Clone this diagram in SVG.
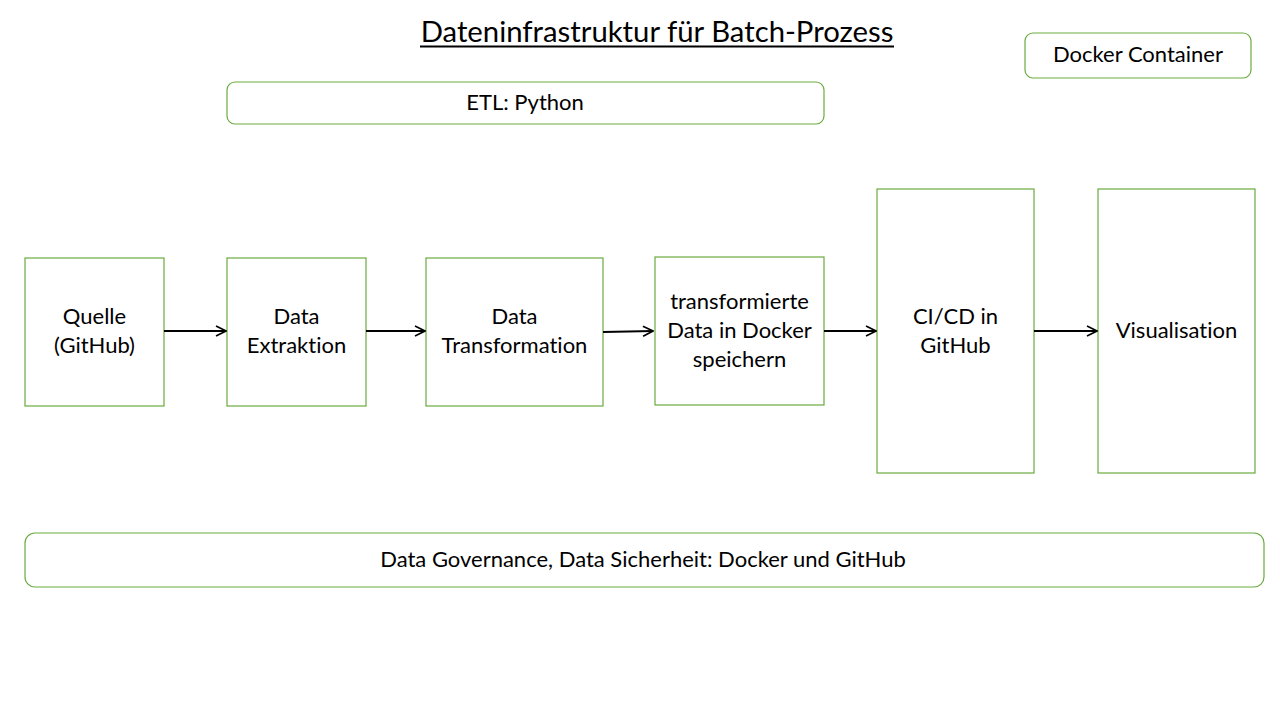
<svg xmlns="http://www.w3.org/2000/svg" width="1280" height="720" viewBox="0 0 1280 720">
<defs>
<marker id="arr" viewBox="0 0 12 12" refX="11" refY="6" markerWidth="12" markerHeight="12" markerUnits="userSpaceOnUse" orient="auto">
<path d="M1,1 L11,6 L1,11" fill="none" stroke="#000" stroke-width="1.6"/>
</marker>
</defs>
<style>
.box{fill:#fff;stroke:#6AAB3F;stroke-width:1.2}
.t{font-family:Lato,"Liberation Sans",sans-serif;font-size:22px;fill:#000;text-anchor:middle;font-variant-ligatures:none;font-feature-settings:"liga" 0}
.c{stroke:#000;stroke-width:2;fill:none;marker-end:url(#arr)}
</style>
<rect width="1280" height="720" fill="#fff"/>
<g id="title">
<text class="t" x="657" y="42" style="font-size:29.3px">Dateninfrastruktur für Batch-Prozess</text>
<line x1="420" y1="46.5" x2="894" y2="46.5" stroke="#000" stroke-width="2"/>
</g>
<g id="docker"><rect class="box" x="1025" y="33" width="226" height="45" rx="8"/><text class="t" x="1138" y="62">Docker Container</text></g>
<g id="etl"><rect class="box" x="227" y="82" width="597" height="42" rx="8"/><text class="t" x="525" y="110">ETL: Python</text></g>
<g id="quelle"><rect class="box" x="25" y="258" width="139" height="148"/><text class="t" x="94.5" y="324">Quelle</text><text class="t" x="94.5" y="353">(GitHub)</text></g>
<g id="extraktion"><rect class="box" x="227" y="258" width="139" height="148"/><text class="t" x="296.5" y="324">Data</text><text class="t" x="296.5" y="353">Extraktion</text></g>
<g id="transformation"><rect class="box" x="426" y="258" width="177" height="148"/><text class="t" x="514.5" y="324">Data</text><text class="t" x="514.5" y="353">Transformation</text></g>
<g id="speichern"><rect class="box" x="655" y="257" width="169" height="148"/><text class="t" x="739.5" y="309">transformierte</text><text class="t" x="739.5" y="338">Data in Docker</text><text class="t" x="739.5" y="367">speichern</text></g>
<g id="cicd"><rect class="box" x="877" y="189" width="157" height="284"/><text class="t" x="955.5" y="324">CI/CD in</text><text class="t" x="955.5" y="353">GitHub</text></g>
<g id="visual"><rect class="box" x="1098" y="189" width="157" height="284"/><text class="t" x="1176.5" y="338">Visualisation</text></g>
<g id="governance"><rect class="box" x="25" y="533" width="1239" height="54" rx="10"/><text class="t" x="643" y="567">Data Governance, Data Sicherheit: Docker und GitHub</text></g>
<g id="connectors">
<line class="c" x1="164" y1="331" x2="226" y2="331"/>
<line class="c" x1="366" y1="331" x2="425" y2="331"/>
<line class="c" x1="603" y1="332" x2="653" y2="331"/>
<line class="c" x1="824" y1="331" x2="876" y2="331"/>
<line class="c" x1="1034" y1="331" x2="1097" y2="331"/>
</g>
</svg>
